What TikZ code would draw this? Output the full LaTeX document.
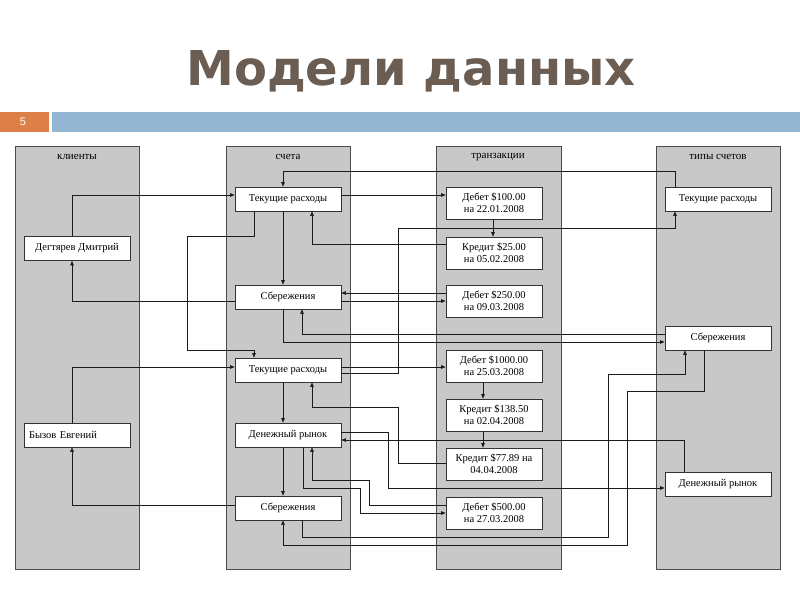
\documentclass[tikz,border=0pt]{standalone}
\usepackage{fontspec}
\setmainfont{Liberation Serif}
\newfontfamily\titlefont{DejaVu Sans}
\newfontfamily\numfont{Liberation Sans}
\usetikzlibrary{arrows.meta}
\definecolor{titlec}{HTML}{6B5D52}
\definecolor{orangec}{HTML}{DD8047}
\definecolor{bluec}{HTML}{94B6D2}
\definecolor{colfill}{HTML}{C8C8C8}
\definecolor{linec}{HTML}{1A1A1A}
\begin{document}
\begin{tikzpicture}[x=1pt,y=-1pt,
  colbox/.style={draw=black!70, fill=colfill, line width=0.8pt},
  ent/.style={draw=black!80, fill=white, line width=0.7pt, minimum height=24pt, minimum width=106pt, inner sep=1pt, font=\fontsize{10.5}{11}\selectfont},
  trn/.style={ent, minimum width=96pt, minimum height=32pt, align=center, font=\fontsize{10.5}{12}\selectfont},
  hdr/.style={font=\fontsize{11}{12}\selectfont},
  conn/.style={draw=linec, line width=0.6pt},
  arr/.style={conn, -{Triangle[length=4.5pt,width=3.5pt]}}]
\useasboundingbox (0,0) rectangle (800,600);
% title and bar
\node[font=\titlefont\bfseries\fontsize{48}{50}\selectfont, text=titlec, anchor=base] (title) at (411,85) {Модели данных};
\fill[orangec] (0,112) rectangle (49,132);
\fill[bluec] (52,112) rectangle (800,132);
\node[font=\numfont\fontsize{11}{12}\selectfont, text=white] (num) at (23,122) {5};
% columns
\draw[colbox] (15,146) rectangle (139,569);
\draw[colbox] (226,146) rectangle (350,569);
\draw[colbox] (436,146) rectangle (561,569);
\draw[colbox] (656,146) rectangle (780,569);
\node[hdr] (h1) at (77,157) {клиенты};
\node[hdr] (h2) at (288,157) {счета};
\node[hdr] (h3) at (498,157) {транзакции};
\node[hdr] (h4) at (718,157) {типы счетов};
% clients
\node[ent] (C1) at (77,248.5) {Дегтярев Дмитрий};
\node[ent, text width=96pt, align=left] (C2) at (77,435) {Бызов Евгений};
% accounts
\node[ent] (A1) at (288,199) {Текущие расходы};
\node[ent] (A2) at (288,297) {Сбережения};
\node[ent] (A3) at (288,370) {Текущие расходы};
\node[ent] (A4) at (288,435) {Денежный рынок};
\node[ent] (A5) at (288,508) {Сбережения};
% transactions
\node[trn] (T1) at (494,203) {Дебет \$100.00\\на 22.01.2008};
\node[trn] (T2) at (494,253) {Кредит \$25.00\\на 05.02.2008};
\node[trn] (T3) at (494,301) {Дебет \$250.00\\на 09.03.2008};
\node[trn] (T4) at (494,366) {Дебет \$1000.00\\на 25.03.2008};
\node[trn] (T5) at (494,415) {Кредит \$138.50\\на 02.04.2008};
\node[trn] (T6) at (494,464) {Кредит \$77.89 на\\04.04.2008};
\node[trn] (T7) at (494,513) {Дебет \$500.00\\на 27.03.2008};
% account types
\node[ent] (Y1) at (718,199) {Текущие расходы};
\node[ent] (Y2) at (718,338) {Сбережения};
\node[ent] (Y3) at (718,484) {Денежный рынок};
% connectors: clients <-> accounts
\draw[arr] (72,0 |- C1.north) |- (A1.west |- 0,195);
\draw[arr] (A2.west |- 0,301) -| (72,0 |- C1.south);
\draw[arr] (72,0 |- C2.north) |- (A3.west |- 0,367);
\draw[arr] (A5.west |- 0,505) -| (72,0 |- C2.south);
% within accounts
\draw[arr] (283,0 |- A1.south) -- (283,0 |- A2.north);
\draw[arr] (254,0 |- A1.south) -- (254,236) -- (187,236) -- (187,350) -- (254,350) -- (254,0 |- A3.north);
\draw[arr] (283,0 |- A3.south) -- (283,0 |- A4.north);
\draw[arr] (283,0 |- A4.south) -- (283,0 |- A5.north);
% top loop Y1 -> A1
\draw[arr] (675,0 |- Y1.north) -- (675,171) -- (283,171) -- (283,0 |- A1.north);
% A1 -> T1, T1 -> T2, T2 -> A1
\draw[arr] (A1.east |- 0,195) -- (T1.west |- 0,195);
\draw[arr] (493,0 |- T1.south) -- (493,0 |- T2.north);
\draw[arr] (T2.west |- 0,244) -| (312,0 |- A1.south);
% A3 -> Y1
\draw[arr] (A3.east |- 0,373) -- (398,373) -- (398,228) -- (675,228) -- (675,0 |- Y1.south);
% A2 <-> T3
\draw[arr] (T3.west |- 0,293) -- (A2.east |- 0,293);
\draw[arr] (A2.east |- 0,301) -- (T3.west |- 0,301);
% A2 <-> Y2
\draw[arr] (283,0 |- A2.south) |- (Y2.west |- 0,342);
\draw[arr] (Y2.west |- 0,334) -| (302,0 |- A2.south);
% A5 <-> Y2
\draw[arr] (302,0 |- A5.south) -- (302,537) -- (608,537) -- (608,374) -- (685,374) -- (685,0 |- Y2.south);
\draw[arr] (704,0 |- Y2.south) -- (704,391) -- (627,391) -- (627,545) -- (283,545) -- (283,0 |- A5.south);
% A3 -> T4, T4 -> T5 -> T6, T6 -> A3
\draw[arr] (A3.east |- 0,367) -- (T4.west |- 0,367);
\draw[arr] (483,0 |- T4.south) -- (483,0 |- T5.north);
\draw[arr] (483,0 |- T5.south) -- (483,0 |- T6.north);
\draw[arr] (T6.west |- 0,463) -- (398,463) -- (398,407) -- (312,407) -- (312,0 |- A3.south);
% A4 <-> Y3
\draw[arr] (684,0 |- Y3.north) |- (A4.east |- 0,440);
\draw[arr] (A4.east |- 0,432) -- (388,432) -- (388,488) -- (Y3.west |- 0,488);
% A4 <-> T7
\draw[arr] (303,0 |- A4.south) -- (303,488) -- (360,488) -- (360,513) -- (T7.west |- 0,513);
\draw[arr] (T7.west |- 0,505) -- (369,505) -- (369,480) -- (312,480) -- (312,0 |- A4.south);
\end{tikzpicture}
\end{document}
